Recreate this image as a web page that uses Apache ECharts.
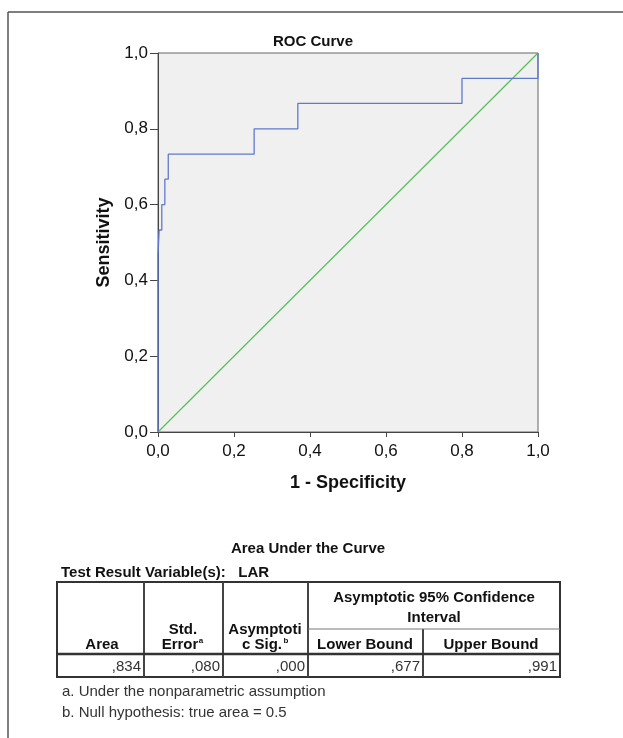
<!DOCTYPE html>
<html>
<head>
<meta charset="utf-8">
<script src="https://cdn.jsdelivr.net/npm/echarts@6/dist/echarts.min.js"></script>
<style>html,body{margin:0;padding:0;background:#fff;}#c{width:623px;height:738px;}</style>
</head>
<body>
<div id="c"></div>
<script>
// ROC curve points (1 - specificity, sensitivity)
const rocX = [0, 0, 0.003, 0.003, 0.010, 0.010, 0.018, 0.018, 0.027, 0.027, 0.253, 0.253, 0.368, 0.368, 0.800, 0.800, 1.0, 1.0];
const rocY = [0, 0.467, 0.467, 0.533, 0.533, 0.600, 0.600, 0.667, 0.667, 0.733, 0.733, 0.800, 0.800, 0.867, 0.867, 0.933, 0.933, 1.0];
// reference line
const refX = [0, 1];
const refY = [0, 1];
// AUC table
const tableHeaders = ['Area', 'Std. Error', 'Asymptotic Sig.', 'Lower Bound', 'Upper Bound'];
const tableValues = [',834', ',080', ',000', ',677', ',991'];
const footnotes = ['a. Under the nonparametric assumption', 'b. Null hypothesis: true area = 0.5'];

const FONT = '"Liberation Sans", Arial, sans-serif';
const fmt = v => v.toFixed(1).replace('.', ',');

const chart = echarts.init(document.getElementById('c'), null, {renderer: 'canvas'});

function txt(x, y, text, opts) {
  opts = opts || {};
  return {
    type: 'text', z: 100,
    style: {
      x: x, y: y, text: text,
      font: (opts.bold ? 'bold ' : '') + (opts.size || 15) + 'px ' + FONT,
      fill: opts.color || '#111',
      align: opts.align || 'center',
      verticalAlign: 'middle'
    }
  };
}
function ln(x1, y1, x2, y2, w, c) {
  return {type: 'line', z: 100, shape: {x1: x1, y1: y1, x2: x2, y2: y2},
    style: {stroke: c || '#333', lineWidth: w || 1}};
}

const colX = [57, 144, 223, 308, 423, 560];
const tTop = 582, tMid = 629, tHead = 654, tBot = 677;

const graphics = [
  // outer frame
  ln(8, 12, 623, 12, 1.5, '#555'),
  ln(8, 12, 8, 738, 1.5, '#555'),
  // titles
  txt(313, 42, 'ROC Curve', {bold: true, size: 15}),
  txt(308, 549, 'Area Under the Curve', {bold: true}),
  txt(61, 573, 'Test Result Variable(s):   LAR', {bold: true, align: 'left'}),
  // table frame
  {type: 'rect', z: 100, shape: {x: colX[0], y: tTop, width: colX[5] - colX[0], height: tBot - tTop},
    style: {fill: 'none', stroke: '#333', lineWidth: 2}},
  ln(colX[1], tTop, colX[1], tBot, 2, '#444'),
  ln(colX[2], tTop, colX[2], tBot, 2, '#444'),
  ln(colX[3], tTop, colX[3], tBot, 2, '#444'),
  ln(colX[4], tMid, colX[4], tBot, 2, '#444'),
  ln(colX[3], tMid, colX[5], tMid, 1, '#777'),
  ln(colX[0], tHead, colX[5], tHead, 2.5, '#333'),
  // header text
  txt(434, 598, 'Asymptotic 95% Confidence', {bold: true}),
  txt(434, 618, 'Interval', {bold: true}),
  txt(102, 645, tableHeaders[0], {bold: true}),
  txt(183, 630, 'Std.', {bold: true}),
  txt(180, 645, 'Error', {bold: true}),
  txt(201, 641, 'a', {bold: true, size: 8}),
  txt(265, 630, 'Asymptoti', {bold: true}),
  txt(262, 645, 'c Sig.', {bold: true}),
  txt(286, 641, 'b', {bold: true, size: 8}),
  txt(365, 645, tableHeaders[3], {bold: true}),
  txt(491, 645, tableHeaders[4], {bold: true}),
  // footnotes
  txt(62, 692, footnotes[0], {align: 'left', color: '#333'}),
  txt(62, 713, footnotes[1], {align: 'left', color: '#333'})
];
// data row, right aligned in each column
tableValues.forEach((v, i) => {
  graphics.push(txt(colX[i + 1] - 3, 667, v, {align: 'right', color: '#333'}));
});

const axisLabel = {fontFamily: FONT, fontSize: 17, color: '#111', formatter: fmt};

chart.setOption({
  animation: false,
  backgroundColor: '#fff',
  grid: {left: 158, top: 53, width: 380, height: 379, show: true,
    backgroundColor: '#f0f0f0', borderColor: '#666', borderWidth: 1},
  xAxis: {
    type: 'value', min: 0, max: 1, interval: 0.2,
    name: '1 - Specificity', nameLocation: 'middle', nameGap: 42,
    nameTextStyle: {fontFamily: FONT, fontSize: 18, fontWeight: 'bold', color: '#111'},
    axisLine: {show: true, onZero: false, lineStyle: {color: '#444', width: 1}},
    axisTick: {show: true, inside: false, length: 5, lineStyle: {color: '#444'}},
    axisLabel: Object.assign({margin: 11}, axisLabel),
    splitLine: {show: false}
  },
  yAxis: {
    type: 'value', min: 0, max: 1, interval: 0.2,
    name: 'Sensitivity', nameLocation: 'middle', nameGap: 40,
    nameTextStyle: {fontFamily: FONT, fontSize: 18, fontWeight: 'bold', color: '#111'},
    axisLine: {show: true, onZero: false, lineStyle: {color: '#444', width: 1}},
    axisTick: {show: true, inside: false, length: 8, lineStyle: {color: '#444'}},
    axisLabel: Object.assign({margin: 10}, axisLabel),
    splitLine: {show: false}
  },
  series: [
    {
      type: 'line', name: 'Reference', symbol: 'none', silent: true,
      data: refX.map((x, i) => [x, refY[i]]),
      lineStyle: {color: '#5cc15c', width: 1.3}
    },
    {
      type: 'line', name: 'ROC', symbol: 'none', silent: true,
      data: rocX.map((x, i) => [x, rocY[i]]),
      lineStyle: {color: '#6079cc', width: 1.3}
    }
  ],
  graphic: graphics
});
</script>
</body>
</html>
